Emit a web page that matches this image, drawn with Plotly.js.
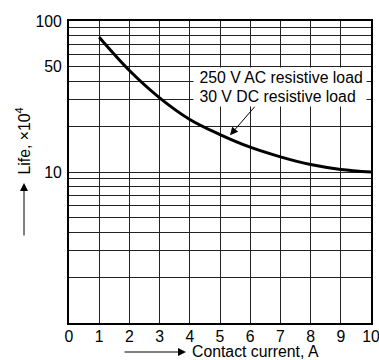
<!DOCTYPE html>
<html>
<head>
<meta charset="utf-8">
<script src="https://cdn.plot.ly/plotly-3.0.1.min.js"></script>
<style>html,body{margin:0;padding:0;background:#fff;}#chart{width:379px;height:360px;}</style>
</head>
<body>
<div id="chart"></div>
<script>
// Data
const current = [1, 2, 3, 4, 5, 6, 7, 8, 9, 10];
const life = [78, 47, 31, 22.3, 17.7, 14.6, 12.6, 11.2, 10.4, 10.0];

const xTickVals = [0, 1, 2, 3, 4, 5, 6, 7, 8, 9, 10];
const xTickText = ['0', '1', '2', '3', '4', '5', '6', '7', '8', '9', '10'];
const yTickVals = [1, 2, 3, 4, 5, 6, 7, 8, 9, 10, 20, 30, 40, 50, 60, 70, 80, 90, 100];
const yTickText = ['', '', '', '', '', '', '', '', '', '10', '', '', '', '50', '', '', '', '', '100'];

const loadLine1 = '250 V AC resistive load';
const loadLine2 = '30 V DC resistive load';
const yTitle = 'Life, ×10<sup>4</sup>';
const xTitle = 'Contact current, A';

const fontFam = 'Liberation Sans, Arial, Helvetica, sans-serif';
const fs = 15.8;
const NBSP = '\u00A0';

const trace = {
  x: current,
  y: life,
  type: 'scatter',
  mode: 'lines',
  line: {color: '#000', width: 3, shape: 'spline', smoothing: 1},
  hoverinfo: 'none'
};

const axisCommon = {
  showgrid: true,
  gridcolor: '#222',
  gridwidth: 1,
  showline: true,
  linecolor: '#000',
  linewidth: 2,
  mirror: true,
  zeroline: false,
  ticks: '',
  ticklabeloverflow: 'allow',
  tickfont: {family: fontFam, size: fs, color: '#000'},
  fixedrange: true
};

function pxX(p) { return (p - 69) / 302; }
function pxY(p) { return (323 - p) / 302; }

const layout = {
  width: 379,
  height: 360,
  margin: {l: 69, r: 8, t: 21, b: 37},
  paper_bgcolor: '#fff',
  plot_bgcolor: '#fff',
  showlegend: false,
  font: {family: fontFam, size: fs, color: '#000'},
  xaxis: Object.assign({}, axisCommon, {
    range: [0, 10],
    tickmode: 'array',
    tickvals: xTickVals,
    ticktext: xTickText,
    ticklabelstandoff: -2
  }),
  yaxis: Object.assign({}, axisCommon, {
    type: 'log',
    range: [0, 2],
    tickmode: 'array',
    tickvals: yTickVals,
    ticktext: yTickText,
    ticklabelstandoff: 2
  }),
  annotations: [
    {
      xref: 'paper', yref: 'paper',
      x: pxX(193), y: pxY(78),
      xanchor: 'left', yanchor: 'middle',
      text: NBSP + loadLine1, align: 'left', width: 170,
      showarrow: false,
      bgcolor: '#fff', borderpad: 1,
      font: {family: fontFam, size: fs, color: '#000'}
    },
    {
      xref: 'paper', yref: 'paper',
      x: pxX(193), y: pxY(96),
      xanchor: 'left', yanchor: 'middle',
      text: NBSP + loadLine2, align: 'left', width: 170,
      showarrow: false,
      bgcolor: '#fff', borderpad: 1,
      font: {family: fontFam, size: fs, color: '#000'}
    },
    {
      xref: 'x', yref: 'y',
      x: 5.33, y: Math.log10(17.5),
      text: '', showarrow: true,
      ax: 26, ay: -30,
      arrowhead: 2, arrowsize: 1.6, arrowwidth: 1, arrowcolor: '#000',
      standoff: 0
    },
    {
      xref: 'paper', yref: 'paper',
      x: pxX(23), y: pxY(141.5),
      xanchor: 'center', yanchor: 'middle',
      text: yTitle, textangle: -90,
      showarrow: false,
      font: {family: fontFam, size: fs, color: '#000'}
    },
    {
      xref: 'paper', yref: 'paper',
      x: pxX(24), y: pxY(183),
      text: '', showarrow: true,
      ax: 0, ay: 54,
      arrowhead: 2, arrowsize: 1.6, arrowwidth: 1, arrowcolor: '#000',
      standoff: 0
    },
    {
      xref: 'paper', yref: 'paper',
      x: pxX(255.5), y: pxY(351.5),
      xanchor: 'center', yanchor: 'middle',
      text: xTitle,
      showarrow: false,
      font: {family: fontFam, size: fs, color: '#000'}
    },
    {
      xref: 'paper', yref: 'paper',
      x: pxX(186), y: pxY(352),
      text: '', showarrow: true,
      ax: -63, ay: 0,
      arrowhead: 2, arrowsize: 1.6, arrowwidth: 1, arrowcolor: '#000',
      standoff: 0
    }
  ]
};

Plotly.newPlot('chart', [trace], layout, {displayModeBar: false, staticPlot: true});
</script>
</body>
</html>
